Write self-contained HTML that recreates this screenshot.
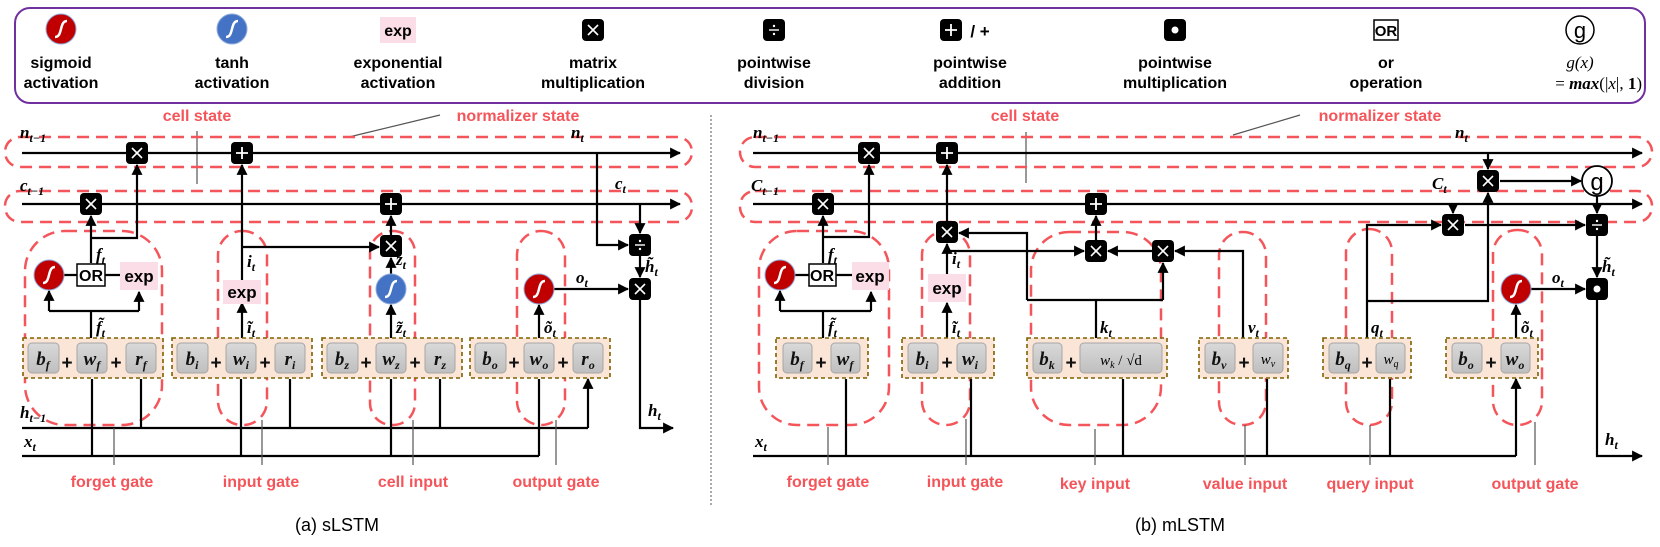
<!DOCTYPE html>
<html><head><meta charset="utf-8"><style>
html,body{margin:0;padding:0;background:#fff}
svg{display:block}
.rl{font-family:"Liberation Sans",sans-serif;font-weight:bold;font-size:16px;fill:#f4555a;text-anchor:middle}
.lg{font-family:"Liberation Sans",sans-serif;font-weight:bold;font-size:16px;fill:#000;text-anchor:middle}
.m{font-family:"Liberation Serif",serif;font-weight:bold;font-style:italic;font-size:17px;fill:#000}
.bx{font-family:"Liberation Serif",serif;font-weight:bold;font-style:italic;font-size:19px;fill:#111;text-anchor:middle}
.ln{stroke:#000;stroke-width:2.2;fill:none}
.ar{stroke:#000;stroke-width:2.2;fill:none;marker-end:url(#a)}
.rd{stroke:#f4555a;stroke-width:2.5;fill:none;stroke-dasharray:12 7}
.lb{fill:#fbe5d6;stroke:#7f6000;stroke-width:1.6;stroke-dasharray:4 3}
.gb{fill:url(#gg);stroke:#a6a6a6;stroke-width:1}
.pt{stroke:#555;stroke-width:1.2}
.ex{fill:#fadde7}
.et{font-family:"Liberation Sans",sans-serif;font-weight:bold;font-size:17px;fill:#000;text-anchor:middle}
</style></head><body>
<svg width="1660" height="547" viewBox="0 0 1660 547" xmlns="http://www.w3.org/2000/svg">
<defs>
<marker id="a" viewBox="0 0 10 10" refX="9" refY="5" markerWidth="5" markerHeight="5" orient="auto"><path d="M0,0 L10,5 L0,10 z" fill="#000"/></marker>
<linearGradient id="gg" x1="0" y1="0" x2="0" y2="1"><stop offset="0" stop-color="#d9d9d9"/><stop offset="1" stop-color="#bfbfbf"/></linearGradient>
<g id="mul"><rect x="-11" y="-11" width="22" height="22" rx="4" fill="#000"/><path d="M-5,-5 L5,5 M5,-5 L-5,5" stroke="#fff" stroke-width="1.6"/></g>
<g id="add"><rect x="-11" y="-11" width="22" height="22" rx="4" fill="#000"/><path d="M-6,0 H6 M0,-6 V6" stroke="#fff" stroke-width="1.8"/></g>
<g id="div"><rect x="-11" y="-11" width="22" height="22" rx="4" fill="#000"/><path d="M-5,0 H5" stroke="#fff" stroke-width="1.4"/><circle cx="0" cy="-4" r="1.2" fill="#fff"/><circle cx="0" cy="4" r="1.2" fill="#fff"/></g>
<g id="dot"><rect x="-11" y="-11" width="22" height="22" rx="4" fill="#000"/><circle r="3.5" fill="#fff"/></g>
<g id="sig"><circle r="15" fill="#c00000" stroke="#8faadc" stroke-width="1"/><path d="M-6,8 C2,8 -2,-8 6,-8" stroke="#fff" stroke-width="2.5" fill="none"/></g>
<g id="tnh"><circle r="15" fill="#4472c4" stroke="#8faadc" stroke-width="1"/><path d="M-6,8 C2,8 -2,-8 6,-8" stroke="#fff" stroke-width="2.5" fill="none"/></g>
</defs>

<!-- Legend -->
<rect x="15" y="8" width="1630" height="95" rx="15" fill="none" stroke="#7030a0" stroke-width="2"/>
<use href="#sig" x="61" y="29"/>
<use href="#tnh" x="232" y="29"/>
<rect x="380" y="17" width="36" height="26" class="ex"/><text x="398" y="36" class="et" style="font-size:16px">exp</text>
<use href="#mul" x="593" y="30"/>
<use href="#div" x="774" y="30"/>
<use href="#add" x="951" y="30"/><text x="980" y="37" font-family="Liberation Sans" font-size="17" font-weight="bold" text-anchor="middle">/ +</text>
<use href="#dot" x="1175" y="30"/>
<rect x="1374" y="20" width="24" height="20" fill="#fff" stroke="#000" stroke-width="1.5"/><text x="1386" y="36" class="et" style="font-size:15px">OR</text>
<circle cx="1580" cy="30" r="14" fill="#fff" stroke="#000" stroke-width="1.5"/><text x="1580" y="38" font-family="Liberation Sans" font-size="22" text-anchor="middle">g</text>
<text class="lg" x="61" y="68">sigmoid</text><text class="lg" x="61" y="88">activation</text>
<text class="lg" x="232" y="68">tanh</text><text class="lg" x="232" y="88">activation</text>
<text class="lg" x="398" y="68">exponential</text><text class="lg" x="398" y="88">activation</text>
<text class="lg" x="593" y="68">matrix</text><text class="lg" x="593" y="88">multiplication</text>
<text class="lg" x="774" y="68">pointwise</text><text class="lg" x="774" y="88">division</text>
<text class="lg" x="970" y="68">pointwise</text><text class="lg" x="970" y="88">addition</text>
<text class="lg" x="1175" y="68">pointwise</text><text class="lg" x="1175" y="88">multiplication</text>
<text class="lg" x="1386" y="68">or</text><text class="lg" x="1386" y="88">operation</text>
<text x="1580" y="68" font-family="Liberation Serif" font-style="italic" font-size="17" text-anchor="middle">g(x)</text>
<text x="1642" y="89" font-family="Liberation Serif" font-size="17" text-anchor="end">= <tspan font-style="italic" font-weight="bold">max</tspan>(|<tspan font-style="italic">x</tspan>|, <tspan font-weight="bold">1</tspan>)</text>

<!-- divider -->
<line x1="711" y1="115" x2="711" y2="505" stroke="#aaa" stroke-width="2" stroke-dasharray="2 2"/>

<!-- ================= sLSTM ================= -->
<text class="rl" x="197" y="121">cell state</text>
<line x1="197" y1="131" x2="197" y2="184" class="pt"/>
<text class="rl" x="518" y="121">normalizer state</text>
<line x1="440" y1="115" x2="349" y2="137" class="pt"/>
<rect x="5" y="137" width="687" height="30" rx="15" class="rd"/>
<rect x="5" y="191" width="687" height="31" rx="15" class="rd"/>
<path class="ar" d="M22,153 H680"/>
<path class="ar" d="M22,204 H680"/>
<!-- gates dashed -->
<rect x="25" y="231" width="137" height="194" rx="40" class="rd"/>
<rect x="218" y="231" width="49" height="194" rx="24" class="rd"/>
<rect x="370" y="231" width="45" height="194" rx="22" class="rd"/>
<rect x="517" y="231" width="48" height="194" rx="24" class="rd"/>
<!-- h, x lines -->
<path class="ln" d="M22,428 H588"/>
<path class="ln" d="M22,456 H539"/>
<!-- forget -->
<path class="ln" d="M91,338 V311 M49,311 H139"/>
<path class="ar" d="M49,311 V291"/><path class="ar" d="M139,311 V292"/>
<path class="ln" d="M63,275 H77 M105,275 H120"/>
<path class="ar" d="M91,263 V216"/>
<path class="ar" d="M91,238 H137 V165"/>
<use href="#sig" x="49" y="275"/>
<rect x="77" y="264" width="28" height="22" fill="#fff" stroke="#000" stroke-width="1.5"/><text x="91" y="281" class="et" style="font-size:16px">OR</text>
<rect x="120" y="262" width="38" height="28" class="ex"/><text x="139" y="282" class="et">exp</text>
<!-- input -->
<path class="ar" d="M242,338 V303"/>
<path class="ar" d="M242,282 V165"/>
<path class="ar" d="M242,247 H379"/>
<rect x="223" y="280" width="38" height="24" class="ex"/><text x="242" y="298" class="et">exp</text>
<!-- z -->
<path class="ar" d="M391,338 V305"/>
<path class="ar" d="M391,274 V258"/>
<path class="ar" d="M391,235 V216"/>
<use href="#tnh" x="391" y="289"/>
<!-- o -->
<path class="ar" d="M539,338 V305"/>
<path class="ar" d="M554,289 H628"/>
<use href="#sig" x="539" y="289"/>
<!-- right -->
<path class="ar" d="M597,153 V245 H628"/>
<path class="ar" d="M640,204 V233"/>
<path class="ar" d="M640,256 V277"/>
<path class="ar" d="M640,300 V428 H673"/>
<use href="#mul" x="137" y="153"/><use href="#add" x="242" y="153"/>
<use href="#mul" x="91" y="204"/><use href="#add" x="391" y="204"/>
<use href="#mul" x="391" y="246"/>
<use href="#div" x="640" y="245"/><use href="#mul" x="640" y="289"/>
<!-- linear boxes sLSTM -->
<g>
<rect x="23" y="338" width="140" height="40" class="lb"/>
<rect x="28" y="343" width="31" height="30" rx="4" class="gb"/><rect x="77" y="343" width="30" height="30" rx="4" class="gb"/><rect x="126" y="343" width="30" height="30" rx="4" class="gb"/>
<text class="bx" x="43" y="365">b<tspan font-size="12" dy="4">f</tspan></text><text class="bx" x="67" y="369" style="font-style:normal;font-family:'Liberation Sans'">+</text>
<text class="bx" x="92" y="365">w<tspan font-size="12" dy="4">f</tspan></text><text class="bx" x="116" y="369" style="font-style:normal;font-family:'Liberation Sans'">+</text>
<text class="bx" x="141" y="365">r<tspan font-size="12" dy="4">f</tspan></text>
</g>
<g>
<rect x="172" y="338" width="140" height="40" class="lb"/>
<rect x="177" y="343" width="31" height="30" rx="4" class="gb"/><rect x="226" y="343" width="30" height="30" rx="4" class="gb"/><rect x="275" y="343" width="30" height="30" rx="4" class="gb"/>
<text class="bx" x="192" y="365">b<tspan font-size="12" dy="4">i</tspan></text><text class="bx" x="216" y="369" style="font-style:normal;font-family:'Liberation Sans'">+</text>
<text class="bx" x="241" y="365">w<tspan font-size="12" dy="4">i</tspan></text><text class="bx" x="265" y="369" style="font-style:normal;font-family:'Liberation Sans'">+</text>
<text class="bx" x="290" y="365">r<tspan font-size="12" dy="4">i</tspan></text>
</g>
<g>
<rect x="322" y="338" width="140" height="40" class="lb"/>
<rect x="327" y="343" width="31" height="30" rx="4" class="gb"/><rect x="376" y="343" width="30" height="30" rx="4" class="gb"/><rect x="425" y="343" width="30" height="30" rx="4" class="gb"/>
<text class="bx" x="342" y="365">b<tspan font-size="12" dy="4">z</tspan></text><text class="bx" x="366" y="369" style="font-style:normal;font-family:'Liberation Sans'">+</text>
<text class="bx" x="391" y="365">w<tspan font-size="12" dy="4">z</tspan></text><text class="bx" x="415" y="369" style="font-style:normal;font-family:'Liberation Sans'">+</text>
<text class="bx" x="440" y="365">r<tspan font-size="12" dy="4">z</tspan></text>
</g>
<g>
<rect x="470" y="338" width="140" height="40" class="lb"/>
<rect x="475" y="343" width="31" height="30" rx="4" class="gb"/><rect x="524" y="343" width="30" height="30" rx="4" class="gb"/><rect x="573" y="343" width="30" height="30" rx="4" class="gb"/>
<text class="bx" x="490" y="365">b<tspan font-size="12" dy="4">o</tspan></text><text class="bx" x="514" y="369" style="font-style:normal;font-family:'Liberation Sans'">+</text>
<text class="bx" x="539" y="365">w<tspan font-size="12" dy="4">o</tspan></text><text class="bx" x="563" y="369" style="font-style:normal;font-family:'Liberation Sans'">+</text>
<text class="bx" x="588" y="365">r<tspan font-size="12" dy="4">o</tspan></text>
</g>
<!-- input arrows -->
<path class="ar" d="M92,456 V379 M141,428 V379 M241,456 V379 M290,428 V379 M391,456 V379 M440,428 V379 M539,456 V379 M588,428 V379"/>
<!-- labels sLSTM -->
<text class="m" x="20" y="138">n<tspan font-size="12" dy="4">t−1</tspan></text>
<text class="m" x="20" y="191">c<tspan font-size="12" dy="4">t−1</tspan></text>
<text class="m" x="571" y="138">n<tspan font-size="12" dy="4">t</tspan></text>
<text class="m" x="615" y="189">c<tspan font-size="12" dy="4">t</tspan></text>
<text class="m" x="96" y="260">f<tspan font-size="12" dy="4">t</tspan></text>
<text class="m" x="96" y="333">f̃<tspan font-size="12" dy="4">t</tspan></text>
<text class="m" x="247" y="267">i<tspan font-size="12" dy="4">t</tspan></text>
<text class="m" x="247" y="333">ĩ<tspan font-size="12" dy="4">t</tspan></text>
<text class="m" x="396" y="265">z<tspan font-size="12" dy="4">t</tspan></text>
<text class="m" x="396" y="333">z̃<tspan font-size="12" dy="4">t</tspan></text>
<text class="m" x="544" y="333">õ<tspan font-size="12" dy="4">t</tspan></text>
<text class="m" x="576" y="283">o<tspan font-size="12" dy="4">t</tspan></text>
<text class="m" x="645" y="272">h̃<tspan font-size="12" dy="4">t</tspan></text>
<text class="m" x="648" y="416">h<tspan font-size="12" dy="4">t</tspan></text>
<text class="m" x="20" y="418">h<tspan font-size="12" dy="4">t−1</tspan></text>
<text class="m" x="24" y="447">x<tspan font-size="12" dy="4">t</tspan></text>
<!-- pointers -->
<path class="pt" d="M114,428 V465 M262,420 V465 M413,420 V465 M556,420 V465"/>
<text class="rl" x="112" y="487">forget gate</text>
<text class="rl" x="261" y="487">input gate</text>
<text class="rl" x="413" y="487">cell input</text>
<text class="rl" x="556" y="487">output gate</text>
<text x="337" y="531" font-family="Liberation Sans" font-size="18" text-anchor="middle">(a) sLSTM</text>

<!-- ================= mLSTM ================= -->
<text class="rl" x="1025" y="121">cell state</text>
<line x1="1026" y1="132" x2="1026" y2="183" class="pt"/>
<text class="rl" x="1380" y="121">normalizer state</text>
<line x1="1300" y1="115" x2="1233" y2="135" class="pt"/>
<rect x="740" y="137" width="912" height="30" rx="15" class="rd"/>
<rect x="740" y="191" width="912" height="31" rx="15" class="rd"/>
<path class="ar" d="M753,153 H1642"/>
<path class="ar" d="M753,204 H1642"/>
<rect x="759" y="231" width="130" height="194" rx="38" class="rd"/>
<rect x="922" y="231" width="48" height="194" rx="24" class="rd"/>
<rect x="1031" y="232" width="130" height="193" rx="38" class="rd"/>
<rect x="1219" y="232" width="47" height="193" rx="23" class="rd"/>
<rect x="1346" y="229" width="46" height="196" rx="23" class="rd"/>
<rect x="1493" y="230" width="49" height="195" rx="24" class="rd"/>
<path class="ln" d="M753,456 H1516"/>
<!-- forget -->
<path class="ln" d="M823,338 V311 M780,311 H871"/>
<path class="ar" d="M780,311 V291"/><path class="ar" d="M871,311 V292"/>
<path class="ln" d="M795,275 H809 M836,275 H852"/>
<path class="ar" d="M823,263 V216"/>
<path class="ar" d="M823,237 H869 V165"/>
<use href="#sig" x="780" y="275"/>
<rect x="809" y="264" width="27" height="22" fill="#fff" stroke="#000" stroke-width="1.5"/><text x="822" y="281" class="et" style="font-size:16px">OR</text>
<rect x="852" y="262" width="37" height="28" class="ex"/><text x="870" y="282" class="et">exp</text>
<!-- input -->
<path class="ar" d="M947,338 V303"/>
<rect x="928" y="274" width="38" height="28" class="ex"/><text x="947" y="294" class="et">exp</text>
<path class="ar" d="M947,274 V244"/>
<path class="ar" d="M947,221 V165"/>
<path class="ar" d="M947,251 H1084"/>
<path class="ar" d="M1096,240 V216"/>
<path class="ar" d="M1152,251 H1108"/>
<path class="ar" d="M1243,338 V251 H1175"/>
<path class="ln" d="M1096,338 V300 M1027,300 H1163"/>
<path class="ar" d="M1163,300 V263"/>
<path class="ar" d="M1027,300 V233 H959"/>
<!-- q -->
<path class="ar" d="M1367,338 V225 H1441"/>
<path class="ar" d="M1367,301 H1488 V193"/>
<path class="ar" d="M1488,153 V169"/>
<path class="ar" d="M1500,181 H1581"/>
<path class="ar" d="M1453,204 V213"/>
<path class="ar" d="M1465,225 H1585"/>
<path class="ar" d="M1597,196 V213"/>
<path class="ar" d="M1597,236 V277"/>
<path class="ar" d="M1516,338 V305"/>
<path class="ar" d="M1531,289 H1585"/>
<path class="ar" d="M1597,300 V456 H1642"/>
<use href="#sig" x="1516" y="289"/>
<circle cx="1597" cy="181" r="15" fill="#fff" stroke="#000" stroke-width="1.8"/><text x="1597" y="190" font-family="Liberation Sans" font-size="24" text-anchor="middle">g</text>
<use href="#mul" x="869" y="153"/><use href="#add" x="947" y="153"/>
<use href="#mul" x="823" y="204"/><use href="#add" x="1096" y="204"/>
<use href="#mul" x="947" y="232"/><use href="#mul" x="1096" y="251"/><use href="#mul" x="1163" y="251"/>
<use href="#mul" x="1488" y="181"/><use href="#mul" x="1453" y="225"/>
<use href="#div" x="1597" y="225"/><use href="#dot" x="1597" y="289"/>
<!-- linear boxes mLSTM -->
<rect x="776" y="338" width="92" height="40" class="lb"/>
<rect x="783" y="343" width="29" height="30" rx="4" class="gb"/><rect x="831" y="343" width="29" height="30" rx="4" class="gb"/>
<text class="bx" x="797" y="365">b<tspan font-size="12" dy="4">f</tspan></text><text class="bx" x="821" y="369" style="font-style:normal;font-family:'Liberation Sans'">+</text><text class="bx" x="845" y="365">w<tspan font-size="12" dy="4">f</tspan></text>
<rect x="902" y="338" width="92" height="40" class="lb"/>
<rect x="908" y="343" width="30" height="30" rx="4" class="gb"/><rect x="957" y="343" width="29" height="30" rx="4" class="gb"/>
<text class="bx" x="922" y="365">b<tspan font-size="12" dy="4">i</tspan></text><text class="bx" x="947" y="369" style="font-style:normal;font-family:'Liberation Sans'">+</text><text class="bx" x="970" y="365">w<tspan font-size="12" dy="4">i</tspan></text>
<rect x="1027" y="338" width="140" height="40" class="lb"/>
<rect x="1033" y="343" width="29" height="30" rx="4" class="gb"/><rect x="1080" y="343" width="82" height="30" rx="4" class="gb"/>
<text class="bx" x="1047" y="365">b<tspan font-size="12" dy="4">k</tspan></text><text class="bx" x="1071" y="369" style="font-style:normal;font-family:'Liberation Sans'">+</text>
<text x="1121" y="365" font-family="Liberation Serif" font-size="15" text-anchor="middle"><tspan font-style="italic">w</tspan><tspan font-size="10" dy="3" font-style="italic">k</tspan><tspan dy="-3"> / √d</tspan></text>
<rect x="1199" y="338" width="89" height="40" class="lb"/>
<rect x="1205" y="343" width="30" height="30" rx="4" class="gb"/><rect x="1253" y="343" width="30" height="30" rx="4" class="gb"/>
<text class="bx" x="1219" y="365">b<tspan font-size="12" dy="4">v</tspan></text><text class="bx" x="1244" y="369" style="font-style:normal;font-family:'Liberation Sans'">+</text><text x="1268" y="364" font-family="Liberation Serif" font-style="italic" font-size="15" text-anchor="middle">w<tspan font-size="10" dy="3">v</tspan></text>
<rect x="1323" y="338" width="88" height="40" class="lb"/>
<rect x="1329" y="343" width="30" height="30" rx="4" class="gb"/><rect x="1376" y="343" width="29" height="30" rx="4" class="gb"/>
<text class="bx" x="1343" y="365">b<tspan font-size="12" dy="4">q</tspan></text><text class="bx" x="1367" y="369" style="font-style:normal;font-family:'Liberation Sans'">+</text><text x="1391" y="364" font-family="Liberation Serif" font-style="italic" font-size="15" text-anchor="middle">w<tspan font-size="10" dy="3">q</tspan></text>
<rect x="1446" y="338" width="92" height="40" class="lb"/>
<rect x="1452" y="343" width="30" height="30" rx="4" class="gb"/><rect x="1501" y="343" width="29" height="30" rx="4" class="gb"/>
<text class="bx" x="1466" y="365">b<tspan font-size="12" dy="4">o</tspan></text><text class="bx" x="1491" y="369" style="font-style:normal;font-family:'Liberation Sans'">+</text><text class="bx" x="1515" y="365">w<tspan font-size="12" dy="4">o</tspan></text>
<path class="ar" d="M846,456 V379 M971,456 V379 M1123,456 V379 M1267,456 V379 M1390,456 V379 M1516,456 V379"/>
<!-- labels mLSTM -->
<text class="m" x="753" y="138">n<tspan font-size="12" dy="4">t−1</tspan></text>
<text class="m" x="751" y="191">C<tspan font-size="12" dy="4">t−1</tspan></text>
<text class="m" x="1455" y="138">n<tspan font-size="12" dy="4">t</tspan></text>
<text class="m" x="1432" y="189">C<tspan font-size="12" dy="4">t</tspan></text>
<text class="m" x="828" y="260">f<tspan font-size="12" dy="4">t</tspan></text>
<text class="m" x="828" y="333">f̃<tspan font-size="12" dy="4">t</tspan></text>
<text class="m" x="952" y="264">i<tspan font-size="12" dy="4">t</tspan></text>
<text class="m" x="952" y="333">ĩ<tspan font-size="12" dy="4">t</tspan></text>
<text class="m" x="1100" y="333">k<tspan font-size="12" dy="4">t</tspan></text>
<text class="m" x="1248" y="333">v<tspan font-size="12" dy="4">t</tspan></text>
<text class="m" x="1371" y="333">q<tspan font-size="12" dy="4">t</tspan></text>
<text class="m" x="1521" y="333">õ<tspan font-size="12" dy="4">t</tspan></text>
<text class="m" x="1552" y="283">o<tspan font-size="12" dy="4">t</tspan></text>
<text class="m" x="1602" y="272">h̃<tspan font-size="12" dy="4">t</tspan></text>
<text class="m" x="1605" y="445">h<tspan font-size="12" dy="4">t</tspan></text>
<text class="m" x="755" y="447">x<tspan font-size="12" dy="4">t</tspan></text>
<path class="pt" d="M828,427 V465 M966,419 V465 M1095,429 V465 M1245,425 V465 M1370,425 V465 M1535,422 V465"/>
<text class="rl" x="828" y="487">forget gate</text>
<text class="rl" x="965" y="487">input gate</text>
<text class="rl" x="1095" y="489">key input</text>
<text class="rl" x="1245" y="489">value input</text>
<text class="rl" x="1370" y="489">query input</text>
<text class="rl" x="1535" y="489">output gate</text>
<text x="1180" y="531" font-family="Liberation Sans" font-size="18" text-anchor="middle">(b) mLSTM</text>
</svg>
</body></html>
